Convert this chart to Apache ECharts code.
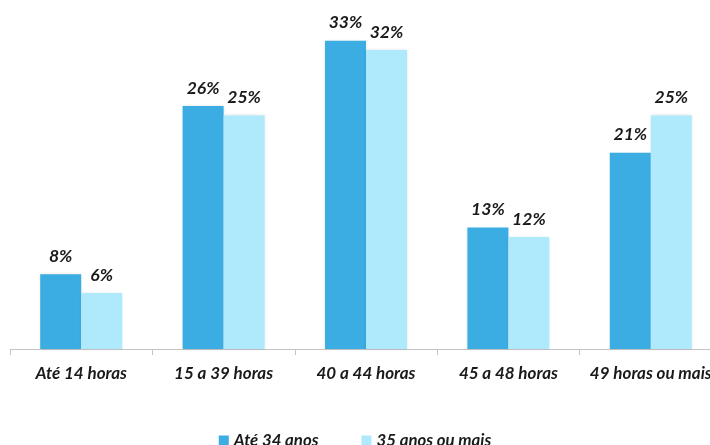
<!DOCTYPE html>
<html>
<head>
<meta charset="utf-8">
<script src="https://cdn.jsdelivr.net/npm/echarts@6/dist/echarts.min.js"></script>
<style>
html, body { margin: 0; padding: 0; background: #fff; }
#chart { width: 710px; height: 445px; }
</style>
</head>
<body>
<div id="chart"></div>
<script>
// Weekly working hours by age group (% of workers)
const categories = ['Até 14 horas', '15 a 39 horas', '40 a 44 horas', '45 a 48 horas', '49 horas ou mais'];
const seriesNames = ['Até 34 anos', '35 anos ou mais'];
const ate34 = [8, 26, 33, 13, 21];
const mais35 = [6, 25, 32, 12, 25];

const font = 'Lato, "Open Sans", sans-serif';
const textStyle = { fontFamily: font, fontStyle: 'italic', fontWeight: 'bold', color: '#1a1a1a' };

function barSeries(name, data, color) {
  return {
    name: name,
    type: 'bar',
    data: data,
    barWidth: 41,
    barGap: '0%',
    itemStyle: {
      color: color,
      shadowBlur: 3,
      shadowColor: 'rgba(0,0,0,0.12)'
    },
    label: Object.assign({
      show: true,
      position: 'top',
      distance: 9,
      fontSize: 17.5,
      formatter: '{c}%'
    }, textStyle)
  };
}

const chart = echarts.init(document.getElementById('chart'), null, { renderer: 'canvas' });
chart.setOption({
  animation: false,
  backgroundColor: '#fff',
  grid: { left: 10, top: 22, width: 712, height: 327, containLabel: false, outerBoundsMode: 'none' },
  legend: {
    top: 427,
    left: 'center',
    itemWidth: 10,
    itemHeight: 10,
    itemGap: 43,
    icon: 'rect',
    textStyle: Object.assign({ fontSize: 16.8 }, textStyle),
    data: seriesNames
  },
  xAxis: {
    type: 'category',
    data: categories,
    axisLine: { lineStyle: { color: '#c4c4c4', width: 1 } },
    axisTick: { show: true, length: 6, lineStyle: { color: '#c4c4c4' } },
    axisLabel: Object.assign({ fontSize: 17, margin: 16, interval: 0 }, textStyle)
  },
  yAxis: {
    type: 'value',
    min: 0,
    max: 35,
    show: false,
    splitLine: { show: false }
  },
  series: [
    barSeries(seriesNames[0], ate34, '#3badE3'),
    barSeries(seriesNames[1], mais35, '#aeeafb')
  ]
});
</script>
</body>
</html>
